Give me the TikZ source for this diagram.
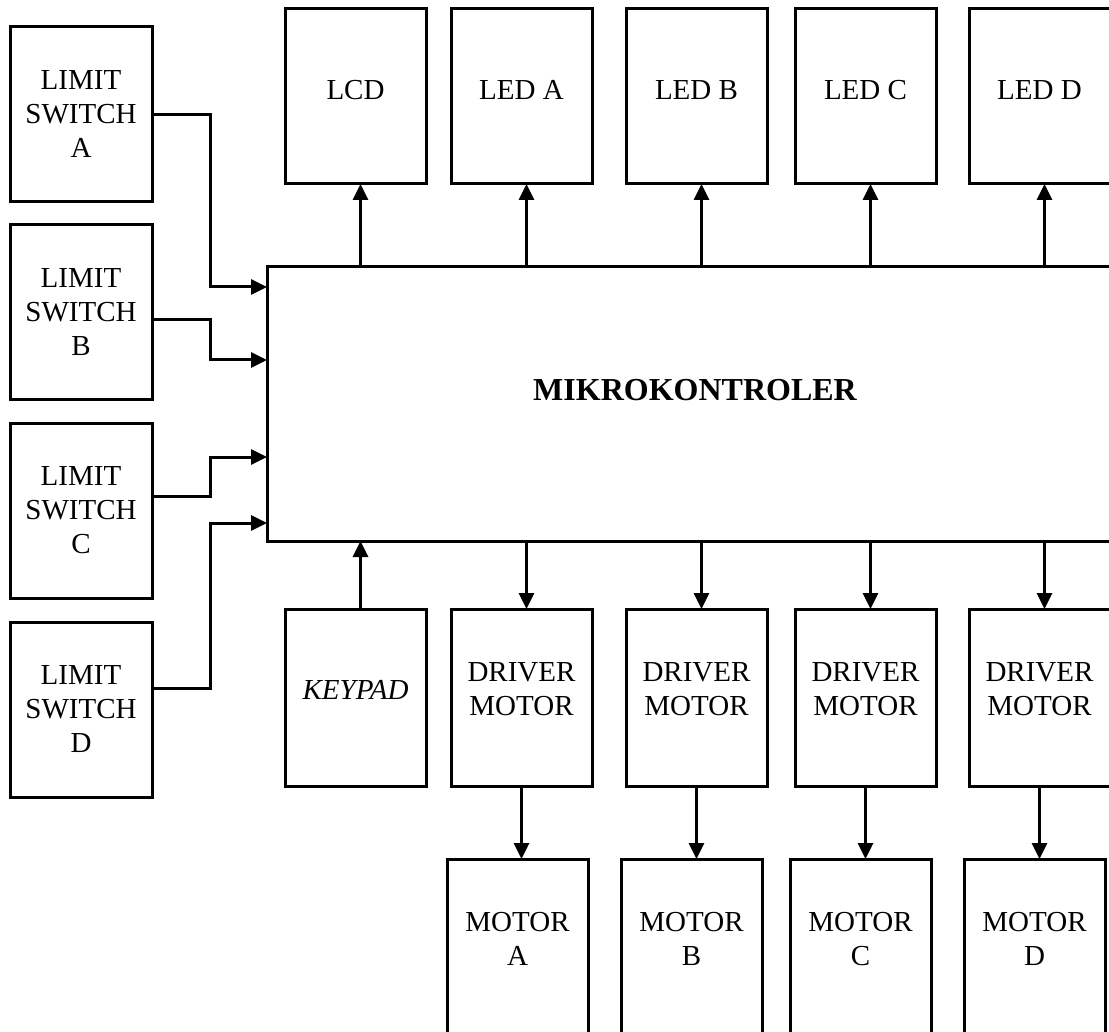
\documentclass[tikz,border=0pt]{standalone}
\usepackage{fontspec}
\setmainfont{Liberation Serif}
\usetikzlibrary{positioning, arrows.meta}

\begin{document}
\begin{tikzpicture}[
  x=0.5pt, y=-0.5pt,
  blk/.style={draw, rectangle, line width=1.5pt, minimum width=70.5pt, minimum height=87.5pt, inner sep=0pt, outer sep=0pt, align=center, font=\fontsize{14.5}{17}\selectfont},
  sw/.style={blk, minimum width=71pt},
  top/.style={blk, text depth=6.5pt},
  drv/.style={blk, minimum height=88.5pt, text depth=8pt},
  mot/.style={blk, text depth=8pt},
  mcubox/.style={draw, rectangle, line width=1.5pt, minimum width=428pt, minimum height=137pt, inner sep=0pt, outer sep=0pt, text depth=14pt, font=\fontsize{16}{19}\selectfont\bfseries},
  arr/.style={-{Triangle[length=8pt, width=7.5pt]}, line width=1.5pt}
]
\useasboundingbox (0,0) rectangle (1109,1032);

% mikrokontroler
\node[mcubox, anchor=north west] (mcu) at (267,267) {MIKROKONTROLER};

% limit switch
\node[sw, anchor=north west] (lsa) at (10,27) {LIMIT\\SWITCH\\A};
\node[sw, below=11.5pt of lsa] (lsb) {LIMIT\\SWITCH\\B};
\node[sw, below=11.5pt of lsb] (lsc) {LIMIT\\SWITCH\\C};
\node[sw, below=12pt of lsc] (lsd) {LIMIT\\SWITCH\\D};

\draw[arr] (lsa.east) -- ++(58,0) |- ([yshift=58.5pt]mcu.west);
\draw[arr] ([yshift=-3.75pt]lsb.east) -- ++(58,0) |- ([yshift=22pt]mcu.west);
\draw[arr] ([yshift=7pt]lsc.east) -- ++(58,0) |- ([yshift=-26.5pt]mcu.west);
\draw[arr] ([yshift=10.75pt]lsd.east) -- ++(58,0) |- ([yshift=-59.5pt]mcu.west);

% lcd dan led
\node[top, anchor=north west] (lcd) at (285,9) {LCD};
\node[top, right=12.5pt of lcd] (leda) {LED A};
\node[top, right=17pt of leda] (ledb) {LED B};
\node[top, right=14pt of ledb] (ledc) {LED C};
\node[top, right=16.5pt of ledc] (ledd) {LED D};

\draw[arr] ([xshift=2.5pt]lcd.south |- mcu.north) -- ([xshift=2.5pt]lcd.south);
\draw[arr] ([xshift=2.5pt]leda.south |- mcu.north) -- ([xshift=2.5pt]leda.south);
\draw[arr] ([xshift=2.5pt]ledb.south |- mcu.north) -- ([xshift=2.5pt]ledb.south);
\draw[arr] ([xshift=2.5pt]ledc.south |- mcu.north) -- ([xshift=2.5pt]ledc.south);
\draw[arr] ([xshift=2.5pt]ledd.south |- mcu.north) -- ([xshift=2.5pt]ledd.south);

% keypad dan driver motor
\node[drv, anchor=north west] (kp) at (285,609) {\itshape KEYPAD};
\node[drv, right=12.5pt of kp] (drva) {DRIVER\\MOTOR};
\node[drv, right=17pt of drva] (drvb) {DRIVER\\MOTOR};
\node[drv, right=14pt of drvb] (drvc) {DRIVER\\MOTOR};
\node[drv, right=16.5pt of drvc] (drvd) {DRIVER\\MOTOR};

\draw[arr] ([xshift=2.5pt]kp.north) -- ([xshift=2.5pt]kp.north |- mcu.south);
\draw[arr] ([xshift=2.5pt]drva.north |- mcu.south) -- ([xshift=2.5pt]drva.north);
\draw[arr] ([xshift=2.5pt]drvb.north |- mcu.south) -- ([xshift=2.5pt]drvb.north);
\draw[arr] ([xshift=2.5pt]drvc.north |- mcu.south) -- ([xshift=2.5pt]drvc.north);
\draw[arr] ([xshift=2.5pt]drvd.north |- mcu.south) -- ([xshift=2.5pt]drvd.north);

% motor
\node[mot, below=36.5pt of drva, xshift=-2pt] (mota) {MOTOR\\A};
\node[mot, below=36.5pt of drvb, xshift=-2.5pt] (motb) {MOTOR\\B};
\node[mot, below=36.5pt of drvc, xshift=-2.5pt] (motc) {MOTOR\\C};
\node[mot, below=36.5pt of drvd, xshift=-2.5pt] (motd) {MOTOR\\D};

\draw[arr] (drva.south) -- (drva.south |- mota.north);
\draw[arr] (drvb.south) -- (drvb.south |- motb.north);
\draw[arr] (drvc.south) -- (drvc.south |- motc.north);
\draw[arr] (drvd.south) -- (drvd.south |- motd.north);
\end{tikzpicture}
\end{document}
